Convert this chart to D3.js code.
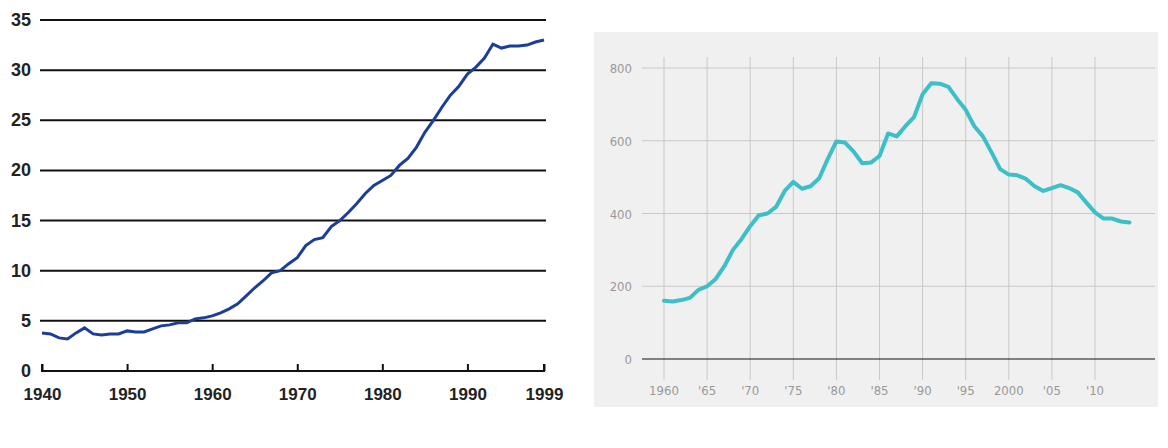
<!DOCTYPE html>
<html>
<head>
<meta charset="utf-8">
<script src="https://cdn.jsdelivr.net/npm/d3@7"></script>
<style>
  body { margin: 0; background: #fff; }
</style>
</head>
<body>
<svg id="chart" width="1168" height="448"></svg>
<script>
// Left chart: 1940-1999
const leftYears = d3.range(1940, 2000);
const leftValues = [3.8, 3.7, 3.3, 3.2, 3.8, 4.3, 3.7, 3.6, 3.7, 3.7,
  4.0, 3.9, 3.9, 4.2, 4.5, 4.6, 4.8, 4.8, 5.2, 5.3,
  5.5, 5.8, 6.2, 6.7, 7.5, 8.3, 9.0, 9.8, 10.0, 10.7,
  11.3, 12.5, 13.1, 13.3, 14.4, 15.0, 15.8, 16.7, 17.7, 18.5,
  19.0, 19.5, 20.5, 21.2, 22.3, 23.8, 25.0, 26.3, 27.5, 28.4,
  29.6, 30.3, 31.2, 32.6, 32.2, 32.4, 32.4, 32.5, 32.8, 33.0];
const leftYTicks = [0, 5, 10, 15, 20, 25, 30, 35];
const leftXTicks = [1940, 1950, 1960, 1970, 1980, 1990, 1999];

// Right chart: 1960-2014
const rightYears = d3.range(1960, 2015);
const rightValues = [160, 158, 162, 168, 190, 200, 220, 255, 300, 330,
  365, 395, 400, 418, 462, 487, 468, 475, 497, 550,
  598, 595, 570, 538, 540, 558, 620, 612, 640, 665,
  728, 758, 757, 748, 715, 685, 640, 612, 568, 522,
  507, 505, 495, 475, 462, 470, 478, 470, 458, 430,
  403, 386, 386, 378, 375];
const rightYTicks = [0, 200, 400, 600, 800];
const rightXTicks = [1960, 1965, 1970, 1975, 1980, 1985, 1990, 1995, 2000, 2005, 2010];
const rightXLabels = ["1960", "'65", "'70", "'75", "'80", "'85", "'90", "'95", "2000", "'05", "'10"];

const svg = d3.select('#chart');

// ---- left ----
const lx = d3.scaleLinear().domain([1940, 1999]).range([42, 544]);
const ly = d3.scaleLinear().domain([0, 35]).range([371, 20]);

const left = svg.append('g');
left.selectAll('.grid').data(leftYTicks.filter(d => d > 0)).enter().append('line')
  .attr('x1', 40).attr('x2', 546)
  .attr('y1', d => ly(d)).attr('y2', d => ly(d))
  .attr('stroke', '#111').attr('stroke-width', 2);

const lxAxis = left.append('g').attr('transform', `translate(0,${ly(0)})`)
  .call(d3.axisBottom(lx).tickValues(leftXTicks).tickFormat(d3.format('d')).tickSize(-7));
lxAxis.select('.domain').attr('stroke', '#111').attr('stroke-width', 2).attr('d', `M${lx(1940)},-7V0H${lx(1999)}V-7`);
lxAxis.selectAll('.tick line').attr('stroke', '#111').attr('stroke-width', 2);
lxAxis.selectAll('text').attr('dy', '1.5em')
  .style('font', 'bold 17px "Liberation Sans", Arial, sans-serif').attr('fill', '#222');

left.selectAll('.ylab').data(leftYTicks).enter().append('text')
  .attr('x', 31).attr('y', d => ly(d) + 6)
  .attr('text-anchor', 'end')
  .style('font', 'bold 18px "Liberation Sans", Arial, sans-serif').attr('fill', '#222')
  .text(d => d);

left.append('path').datum(leftValues)
  .attr('fill', 'none').attr('stroke', '#1a3e9a').attr('stroke-width', 3)
  .attr('d', d3.line().x((d, i) => lx(leftYears[i])).y(d => ly(d)));

// ---- right ----
const right = svg.append('g');
right.append('rect').attr('x', 594).attr('y', 32).attr('width', 564).attr('height', 375).attr('fill', '#f0f0f0');

const rx = d3.scaleLinear().domain([1960, 2010]).range([664, 1095]);
const ry = d3.scaleLinear().domain([0, 800]).range([359, 68]);

right.selectAll('.vgrid').data(rightXTicks).enter().append('line')
  .attr('x1', d => rx(d)).attr('x2', d => rx(d))
  .attr('y1', 57).attr('y2', 380)
  .attr('stroke', '#c8c8c8').attr('stroke-width', 1);
right.selectAll('.hgrid').data(rightYTicks).enter().append('line')
  .attr('x1', 642).attr('x2', 1155)
  .attr('y1', d => ry(d)).attr('y2', d => ry(d))
  .attr('stroke', d => d === 0 ? '#111' : '#c8c8c8').attr('stroke-width', 1);

right.selectAll('.rylab').data(rightYTicks).enter().append('text')
  .attr('x', 632).attr('y', d => ry(d) + 5)
  .attr('text-anchor', 'end')
  .style('font', '13px "DejaVu Sans Condensed", "Liberation Sans Narrow", sans-serif').attr('fill', '#999')
  .text(d => d);
right.selectAll('.rxlab').data(rightXTicks).enter().append('text')
  .attr('x', d => rx(d)).attr('y', 395)
  .attr('text-anchor', 'middle')
  .style('font', '13px "DejaVu Sans Condensed", "Liberation Sans Narrow", sans-serif').attr('fill', '#999')
  .text((d, i) => rightXLabels[i]);

right.append('path').datum(rightValues)
  .attr('fill', 'none').attr('stroke', '#3cbfc6').attr('stroke-width', 4)
  .attr('stroke-linejoin', 'round').attr('stroke-linecap', 'round')
  .attr('d', d3.line().x((d, i) => rx(rightYears[i])).y(d => ry(d)));
</script>
</body>
</html>
